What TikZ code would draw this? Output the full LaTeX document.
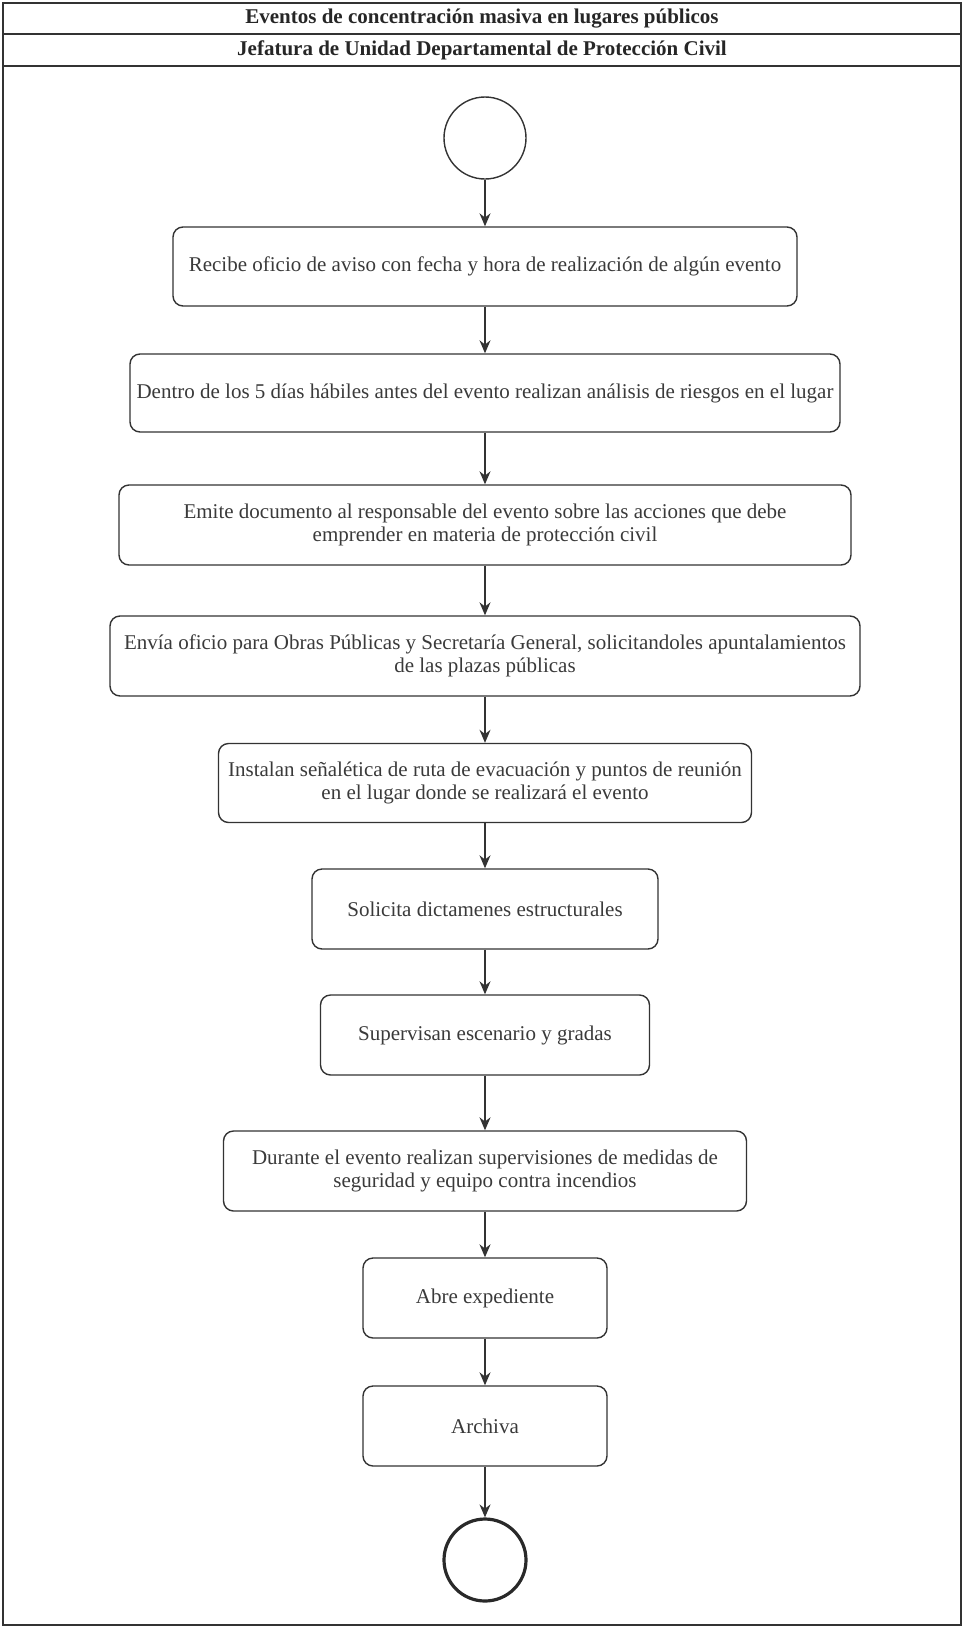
\documentclass[tikz,border=0pt]{standalone}
\usepackage{fontspec}
\setmainfont{Liberation Serif}
\usetikzlibrary{arrows.meta}
\definecolor{ink}{HTML}{333333}
\definecolor{txt}{HTML}{3A3A3A}
\tikzset{
  stepbox/.style={draw=ink, line width=1.4pt, rounded corners=10pt, align=center,
    text=txt, font=\fontsize{21}{23}\selectfont, inner sep=0pt},
  startnode/.style={circle, draw=ink, line width=1.4pt, minimum size=82pt, inner sep=0pt},
  endnode/.style={circle, draw=ink!80!black, line width=3.2pt, minimum size=82pt, inner sep=0pt},
  flow/.style={draw=ink, line width=1.4pt, -{Stealth[length=13pt,width=11pt]}},
  titletext/.style={font=\bfseries\fontsize{21}{24}\selectfont, text=black!85}
}
\begin{document}
\begin{tikzpicture}[x=1pt,y=-1pt]
\useasboundingbox (0,0) rectangle (964,1628);
% frame and title rows
\draw[ink, line width=1.4pt] (3,3) rectangle (961,1625);
\draw[ink, line width=2pt] (3,34) -- (961,34);
\draw[ink, line width=2pt] (3,66) -- (961,66);
\node[titletext] (t1) at (482,19) {Eventos de concentración masiva en lugares públicos};
\node[titletext] (t2) at (482,50) {Jefatura de Unidad Departamental de Protección Civil};
% nodes
\node[startnode] (s) at (485,138) {};
\node[stepbox, minimum width=624pt, minimum height=79pt] (b1) at (485,266.5) {Recibe oficio de aviso con fecha y hora de realización de algún evento};
\node[stepbox, minimum width=710pt, minimum height=78pt] (b2) at (485,393) {Dentro de los 5 días hábiles antes del evento realizan análisis de riesgos en el lugar};
\node[stepbox, minimum width=732pt, minimum height=80pt] (b3) at (485,525) {Emite documento al responsable del evento sobre las acciones que debe\\emprender en materia de protección civil};
\node[stepbox, minimum width=750pt, minimum height=80pt] (b4) at (485,656) {Envía oficio para Obras Públicas y Secretaría General, solicitandoles apuntalamientos\\de las plazas públicas};
\node[stepbox, minimum width=533pt, minimum height=79pt] (b5) at (485,783) {Instalan señalética de ruta de evacuación y puntos de reunión\\en el lugar donde se realizará el evento};
\node[stepbox, minimum width=346pt, minimum height=80pt] (b6) at (485,909) {Solicita dictamenes estructurales};
\node[stepbox, minimum width=329pt, minimum height=80pt] (b7) at (485,1035) {Supervisan escenario y gradas};
\node[stepbox, minimum width=523pt, minimum height=80pt] (b8) at (485,1171) {Durante el evento realizan supervisiones de medidas de\\seguridad y equipo contra incendios};
\node[stepbox, minimum width=244pt, minimum height=80pt] (b9) at (485,1298) {Abre expediente};
\node[stepbox, minimum width=244pt, minimum height=80pt] (b10) at (485,1426) {Archiva};
\node[endnode] (e) at (485,1560) {};
% connectors
\draw[flow] (s) -- (b1);
\draw[flow] (b1) -- (b2);
\draw[flow] (b2) -- (b3);
\draw[flow] (b3) -- (b4);
\draw[flow] (b4) -- (b5);
\draw[flow] (b5) -- (b6);
\draw[flow] (b6) -- (b7);
\draw[flow] (b7) -- (b8);
\draw[flow] (b8) -- (b9);
\draw[flow] (b9) -- (b10);
\draw[flow] (b10) -- (e);
\end{tikzpicture}
\end{document}
